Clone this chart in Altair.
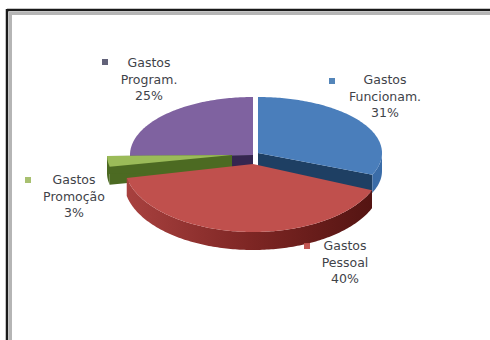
import math
import altair as alt
import pandas as pd

# Budget shares shown on the pie, clockwise from twelve o'clock
categories = ["Funcionam.", "Pessoal", "Promoção", "Program."]
shares = [31, 40, 3, 25]
top_colors = ["#4A7EBB", "#C0504D", "#9BBB59", "#7F62A0"]
cut_colors = ["#1E3F63", "#5E1C1A", "#4C6A22", "#352650"]
side_colors = ["#3A6CA8", "#8A2F2D", "#4C6A22", "#352650"]
key_colors = ["#4A7EB5", "#C0504D", "#A3BD68", "#5A5A72"]

# Pseudo-3D geometry of each exploded wedge: apex, radii and rim depth
apex_x = [258, 253, 232, 253]
apex_y = [153, 164, 155, 155]
radius_x = [124, 129, 125, 123]
radius_y = [56, 68, 57, 58]
depth = 18

W, H = 490, 340
xs = alt.Scale(domain=[0, W], range=[0, W], nice=False, zero=False)
ys = alt.Scale(domain=[0, H], range=[0, H], nice=False, zero=False)


def rim(k, a):
    r = math.radians(a)
    return apex_x[k] + radius_x[k] * math.sin(r), apex_y[k] - radius_y[k] * math.cos(r)


def polygon(points, fill):
    df = pd.DataFrame(points + points[:1], columns=["x", "y"])
    df["i"] = range(len(df))
    return alt.Chart(df).mark_line(fill=fill, stroke=None, strokeWidth=0, interpolate="linear").encode(
        x=alt.X("x:Q", scale=xs, axis=None),
        y=alt.Y("y:Q", scale=ys, axis=None),
        order="i:Q",
    )


total = sum(shares)
bounds = [0]
for s in shares:
    bounds.append(bounds[-1] + 360 * s / total)

red_wall = alt.Gradient(
    gradient="linear", x1=0, x2=1, y1=0, y2=0,
    stops=[alt.GradientStop(offset=0, color="#A8413F"),
           alt.GradientStop(offset=0.5, color="#7E2624"),
           alt.GradientStop(offset=1, color="#541412")],
)

layers = []
for k in [3, 0, 2, 1]:
    a0, a1 = bounds[k], bounds[k + 1]
    steps = max(6, int(a1 - a0))
    arc = [rim(k, a0 + (a1 - a0) * j / steps) for j in range(steps + 1)]
    apex = (apex_x[k], apex_y[k])
    drop = lambda p: (p[0], p[1] + depth)
    # cut faces of the wedge (the front wedge hides its own), then outer rim, then top face
    if categories[k] != "Pessoal":
        for end in (arc[0], arc[-1]):
            layers.append(polygon([apex, end, drop(end), drop(apex)], cut_colors[k]))
    front = [p for j, p in enumerate(arc)
             if math.cos(math.radians(a0 + (a1 - a0) * j / steps)) < 0.02]
    if len(front) > 1:
        fill = red_wall if categories[k] == "Pessoal" else side_colors[k]
        layers.append(polygon(front + [drop(p) for p in reversed(front)], fill))
    layers.append(polygon([apex] + arc, top_colors[k]))

# Data labels, three centred lines per slice
label_x = [385, 345, 74, 149]
label_y = [80, 246, 180, 63]
line_step = 16.5
rows = []
for k, cat in enumerate(categories):
    for n, txt in enumerate(["Gastos", cat, f"{shares[k]}%"]):
        rows.append({"x": label_x[k], "y": label_y[k] + n * line_step, "t": txt})
labels = alt.Chart(pd.DataFrame(rows)).mark_text(
    font="DejaVu Sans", fontSize=12.5, color="#3F4349", align="center", baseline="middle"
).encode(
    x=alt.X("x:Q", scale=xs, axis=None),
    y=alt.Y("y:Q", scale=ys, axis=None),
    text="t:N",
)

# Small colour keys beside the labels
key_x = [332, 307, 28, 105]
key_y = [81, 246, 180, 62]
keys = alt.Chart(pd.DataFrame({"x": key_x, "y": key_y, "c": key_colors})).mark_square(
    size=36, opacity=0.95
).encode(
    x=alt.X("x:Q", scale=xs, axis=None),
    y=alt.Y("y:Q", scale=ys, axis=None),
    color=alt.Color("c:N", scale=None),
)

# Double frame around the chart
frame = []
for x1, x2, y1, y2, col, sw in [
    (7, W, 10, 10, "#1A1A1A", 2.5),
    (7, 7, 9, H, "#1A1A1A", 2.5),
    (10, W, 13.5, 13.5, "#B5B5B5", 3),
    (10.5, 10.5, 12, H, "#B5B5B5", 3),
]:
    frame.append(
        alt.Chart(pd.DataFrame({"a": [0]})).mark_rule(color=col, strokeWidth=sw).encode(
            x=alt.value(x1), x2=alt.value(x2), y=alt.value(y1), y2=alt.value(y2)
        )
    )

chart = alt.layer(*frame, *layers, keys, labels).properties(
    width=W, height=H, padding=0, autosize=alt.AutoSizeParams(type="none"),
    background="white",
).configure_view(stroke=None)

chart.save("out.html", embed_options={"renderer": "svg", "actions": False})
